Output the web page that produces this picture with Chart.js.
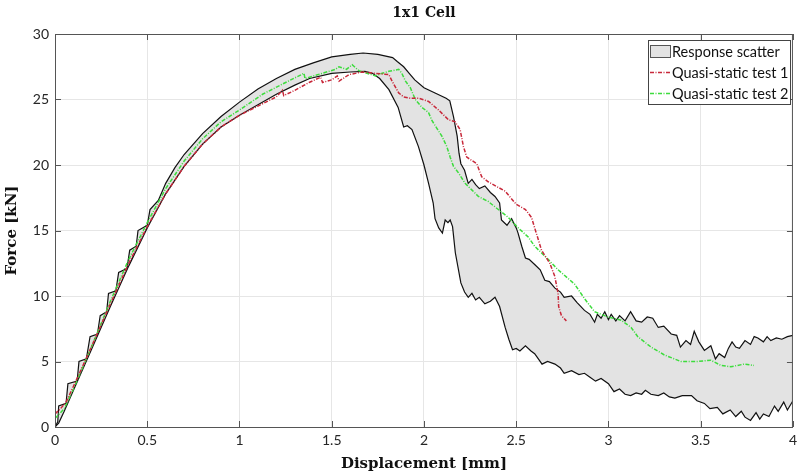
<!DOCTYPE html>
<html lang="en">
<head>
    <meta charset="UTF-8">
    <title>1x1 Cell</title>
    <script src="https://cdn.jsdelivr.net/npm/chart.js"></script>
    <style>
        body { margin: 0; background: #fff; }
        #wrap { width: 802px; height: 476px; }
    </style>
</head>
<body>
    <div id="wrap"><canvas id="cellChart" width="802" height="476"></canvas></div>

    <script>
        // Response scatter envelope (upper / lower), displacement [mm] vs force [kN]
        const upperX = [0, 0.015, 0.02, 0.06, 0.07, 0.12, 0.13, 0.17, 0.19, 0.23, 0.245, 0.28, 0.29, 0.33, 0.345, 0.39, 0.405, 0.44, 0.45, 0.5,
            0.515, 0.56, 0.6, 0.65, 0.7, 0.8, 0.9, 1.0, 1.1, 1.2, 1.3, 1.4, 1.5, 1.6, 1.67, 1.75, 1.83, 1.855, 1.89, 1.92,
            1.95, 2.0, 2.06, 2.12, 2.14, 2.16, 2.18, 2.19, 2.2, 2.22, 2.24, 2.26, 2.28, 2.3, 2.33, 2.36, 2.385, 2.41, 2.42, 2.45,
            2.475, 2.5, 2.51, 2.53, 2.55, 2.57, 2.6, 2.63, 2.655, 2.68, 2.71, 2.74, 2.76, 2.8, 2.83, 2.87, 2.9, 2.925, 2.94, 2.96,
            2.98, 3.0, 3.015, 3.04, 3.06, 3.09, 3.12, 3.15, 3.18, 3.21, 3.24, 3.27, 3.3, 3.34, 3.37, 3.39, 3.42, 3.445, 3.465, 3.49,
            3.52, 3.555, 3.58, 3.6, 3.63, 3.65, 3.67, 3.69, 3.71, 3.74, 3.77, 3.79, 3.81, 3.84, 3.86, 3.88, 3.91, 3.94, 3.97, 4.0];
        const upperY = [0, 0.4, 1.6, 1.8, 3.3, 3.5, 5.0, 5.2, 6.9, 7.1, 8.5, 8.8, 10.2, 10.4, 11.8, 12.1, 13.5, 13.8, 15.0, 15.4,
            16.6, 17.3, 18.6, 19.8, 20.8, 22.4, 23.7, 24.8, 25.8, 26.6, 27.3, 27.8, 28.25, 28.45, 28.55, 28.45, 28.2, 27.9, 27.5, 27.0,
            26.5, 25.9, 25.5, 25.1, 24.9, 23.7, 22.2, 20.9, 20.1, 19.6, 18.6, 18.9, 18.5, 18.2, 18.4, 17.9, 17.6, 17.1, 15.8, 15.4,
            15.9, 15.2, 14.8, 13.8, 12.9, 12.8, 12.4, 12.0, 11.2, 11.1, 10.6, 10.3, 9.9, 10.0, 9.5, 8.9, 8.6, 8.0, 8.6, 8.3,
            8.8, 8.2, 8.6, 8.1, 8.5, 8.1, 8.8, 8.1, 8.0, 8.4, 8.3, 7.6, 7.7, 7.1, 7.0, 6.1, 6.6, 6.3, 7.3, 6.5,
            5.85, 6.2, 5.2, 5.6, 5.3, 6.0, 6.5, 6.1, 6.0, 6.6, 6.3, 6.9, 6.8, 6.5, 6.9, 6.6, 6.8, 6.7, 6.9, 7.0];

        const lowerX = [0, 0.02, 0.05, 0.1, 0.2, 0.3, 0.4, 0.5, 0.6, 0.7, 0.8, 0.9, 1.0, 1.1, 1.2, 1.3, 1.38, 1.5, 1.6, 1.68,
            1.72, 1.76, 1.81, 1.86, 1.89, 1.91, 1.935, 1.97, 2.0, 2.025, 2.05, 2.06, 2.08, 2.1, 2.115, 2.13, 2.142, 2.155, 2.17, 2.2,
            2.22, 2.24, 2.26, 2.28, 2.3, 2.33, 2.36, 2.385, 2.41, 2.44, 2.46, 2.48, 2.5, 2.52, 2.55, 2.58, 2.6, 2.62, 2.64, 2.67,
            2.71, 2.74, 2.76, 2.8, 2.84, 2.87, 2.9, 2.93, 2.96, 3.0, 3.03, 3.06, 3.09, 3.12, 3.15, 3.18, 3.2, 3.23, 3.27, 3.3,
            3.33, 3.36, 3.4, 3.45, 3.48, 3.52, 3.55, 3.59, 3.62, 3.66, 3.69, 3.72, 3.74, 3.77, 3.8, 3.82, 3.84, 3.87, 3.9, 3.92,
            3.95, 3.97, 4.0];
        const lowerY = [0, 0.3, 1.2, 2.8, 6.0, 9.2, 12.3, 15.2, 17.8, 19.9, 21.6, 22.9, 23.8, 24.6, 25.4, 26.1, 26.6, 27.0, 27.1, 27.15,
            27.0, 26.6, 25.75, 24.4, 22.9, 23.0, 22.7, 21.4, 20.0, 18.6, 17.1, 15.9, 15.2, 14.8, 15.8, 15.6, 15.8, 15.3, 13.3, 11.0,
            10.3, 9.9, 10.2, 9.7, 9.9, 9.4, 9.6, 9.9, 9.2, 7.6, 6.7, 5.9, 6.0, 5.8, 6.2, 5.8, 5.6, 5.2, 4.8, 5.0,
            4.8, 4.5, 4.1, 4.3, 4.0, 4.1, 3.8, 3.5, 3.7, 3.3, 2.7, 2.9, 2.5, 2.4, 2.6, 2.5, 2.8, 2.5, 2.4, 2.6,
            2.3, 2.2, 2.4, 2.4, 2.0, 1.8, 1.4, 1.5, 1.0, 1.3, 0.8, 1.2, 0.75, 0.5, 1.1, 0.6, 1.0, 0.8, 1.6, 1.2,
            1.9, 1.3, 2.0];

        // Quasi-static test 1
        const test1X = [0, 0.03, 0.06, 0.1, 0.2, 0.3, 0.4, 0.5, 0.6, 0.7, 0.8, 0.9, 1.0, 1.1, 1.2, 1.233, 1.24, 1.3, 1.377, 1.44,
            1.45, 1.5, 1.53, 1.54, 1.593, 1.665, 1.737, 1.81, 1.827, 1.863, 1.89, 1.926, 1.97, 2.025, 2.079, 2.133, 2.169, 2.196, 2.214, 2.232,
            2.286, 2.313, 2.35, 2.44, 2.5, 2.55, 2.583, 2.6, 2.62, 2.637, 2.682, 2.709, 2.727, 2.73, 2.745, 2.772];
        const test1Y = [1.0, 1.4, 1.9, 3.1, 6.2, 9.4, 12.5, 15.3, 17.8, 19.9, 21.6, 22.9, 23.8, 24.5, 25.2, 25.7, 25.3, 25.7, 26.3, 26.7,
            26.3, 26.5, 26.8, 26.4, 26.9, 27.1, 27.0, 26.9, 26.4, 25.5, 25.2, 25.1, 25.1, 24.85, 24.2, 23.45, 23.3, 22.7, 21.4, 20.6,
            20.1, 19.1, 18.7, 18.0, 17.0, 16.6, 16.0, 15.2, 14.3, 13.5, 12.5, 11.5, 10.2, 9.2, 8.5, 8.1];

        // Quasi-static test 2
        const test2X = [0, 0.05, 0.1, 0.2, 0.3, 0.4, 0.5, 0.6, 0.7, 0.8, 0.9, 1.0, 1.125, 1.25, 1.35, 1.355, 1.449, 1.52, 1.539, 1.58,
            1.611, 1.647, 1.737, 1.773, 1.81, 1.863, 1.88, 1.9, 1.926, 1.953, 1.989, 2.025, 2.043, 2.07, 2.097, 2.124, 2.142, 2.16, 2.187, 2.223,
            2.259, 2.295, 2.35, 2.403, 2.457, 2.511, 2.565, 2.6, 2.673, 2.727, 2.817, 2.87, 2.925, 2.997, 3.069, 3.123, 3.159, 3.231, 3.303, 3.393,
            3.483, 3.555, 3.609, 3.663, 3.735, 3.789];
        const test2Y = [0.65, 1.4, 2.9, 6.2, 9.6, 12.8, 15.6, 18.2, 20.3, 22.0, 23.3, 24.2, 25.4, 26.3, 27.0, 26.6, 27.0, 27.3, 27.5, 27.3,
            27.65, 27.2, 26.8, 27.0, 27.15, 27.3, 27.0, 26.4, 25.9, 25.0, 24.4, 24.0, 23.4, 22.8, 22.2, 21.4, 20.6, 19.9, 19.4, 18.6,
            18.1, 17.6, 17.2, 16.6, 16.0, 15.2, 14.5, 13.8, 12.8, 12.0, 10.9, 9.8, 8.8, 8.4, 8.15, 7.6, 6.9, 6.1, 5.5, 5.0,
            5.0, 5.1, 4.7, 4.6, 4.8, 4.7];

        const xTicks = { min: 0, max: 4, step: 0.5 };
        const yTicks = { min: 0, max: 30, step: 5 };

        const legendItems = [
            { label: 'Response scatter', kind: 'box', color: '#e3e3e3' },
            { label: 'Quasi-static test 1', kind: 'line', color: '#c8283a' },
            { label: 'Quasi-static test 2', kind: 'line', color: '#3ddc3d' }
        ];

        const toPoints = (xs, ys) => xs.map((x, i) => ({ x: x, y: ys[i] }));

        const axisColor = '#555555';
        const tickFont = { family: 'Lato', size: 14 };
        const labelFont = { family: 'DejaVu Serif', size: 15, weight: 'bold' };

        // frame, inner tick marks, title and the legend box (MATLAB style)
        const matlabFrame = {
            id: 'matlabFrame',
            afterDraw(chart) {
                const ctx = chart.ctx;
                const a = chart.chartArea;
                const xs = chart.scales.x, ys = chart.scales.y;
                ctx.save();
                ctx.strokeStyle = axisColor;
                ctx.lineWidth = 1;
                ctx.strokeRect(a.left + 0.5, a.top + 0.5, a.right - a.left - 1, a.bottom - a.top);
                ctx.beginPath();
                xs.ticks.forEach(t => {
                    const px = Math.round(xs.getPixelForValue(t.value)) + 0.5;
                    ctx.moveTo(px, a.bottom); ctx.lineTo(px, a.bottom - 6);
                    ctx.moveTo(px, a.top); ctx.lineTo(px, a.top + 6);
                });
                ys.ticks.forEach(t => {
                    const py = Math.round(ys.getPixelForValue(t.value)) + 0.5;
                    ctx.moveTo(a.left, py); ctx.lineTo(a.left + 6, py);
                    ctx.moveTo(a.right, py); ctx.lineTo(a.right - 6, py);
                });
                ctx.stroke();

                // title
                ctx.fillStyle = '#111';
                ctx.font = 'bold 14px "DejaVu Serif"';
                ctx.textAlign = 'center';
                ctx.textBaseline = 'middle';
                ctx.fillText('1x1 Cell', (a.left + a.right) / 2, 13);

                // legend
                const lx = 648, ly = 40, lw = 142, lh = 64;
                ctx.fillStyle = '#fff';
                ctx.fillRect(lx, ly, lw, lh);
                ctx.strokeStyle = '#444';
                ctx.strokeRect(lx + 0.5, ly + 0.5, lw, lh);
                ctx.font = '14.5px Lato';
                ctx.textAlign = 'left';
                legendItems.forEach((it, i) => {
                    const cy = ly + 11 + i * 21;
                    if (it.kind === 'box') {
                        ctx.fillStyle = it.color;
                        ctx.fillRect(lx + 2, cy - 6, 20, 12);
                        ctx.strokeStyle = '#555';
                        ctx.strokeRect(lx + 2.5, cy - 5.5, 20, 12);
                    } else {
                        ctx.strokeStyle = it.color;
                        ctx.lineWidth = 1.5;
                        ctx.setLineDash([4, 1.5, 1, 1.5]);
                        ctx.beginPath();
                        ctx.moveTo(lx + 2, cy + 0.5); ctx.lineTo(lx + 23, cy + 0.5);
                        ctx.stroke();
                        ctx.setLineDash([]);
                        ctx.lineWidth = 1;
                    }
                    ctx.fillStyle = '#111';
                    ctx.fillText(it.label, lx + 24, cy + 1);
                });
                ctx.restore();
            }
        };

        const ctxCell = document.getElementById('cellChart').getContext('2d');

        const cellChart = new Chart(ctxCell, {
            type: 'line',
            data: {
                datasets: [
                    {
                        label: 'Response scatter (upper)',
                        data: toPoints(upperX, upperY),
                        borderColor: '#111',
                        borderWidth: 1.2,
                        backgroundColor: '#e3e3e3',
                        fill: '+1',
                        order: 1
                    },
                    {
                        label: 'Response scatter (lower)',
                        data: toPoints(lowerX, lowerY),
                        borderColor: '#111',
                        borderWidth: 1.2,
                        fill: false,
                        order: 1
                    },
                    {
                        label: 'Quasi-static test 1',
                        data: toPoints(test1X, test1Y),
                        borderColor: '#c8283a',
                        borderWidth: 1.5,
                        borderDash: [4, 1.5, 1, 1.5],
                        fill: false,
                        order: 0
                    },
                    {
                        label: 'Quasi-static test 2',
                        data: toPoints(test2X, test2Y),
                        borderColor: '#3ddc3d',
                        borderWidth: 1.5,
                        borderDash: [4, 1.5, 1, 1.5],
                        fill: false,
                        order: 0
                    }
                ]
            },
            options: {
                responsive: false,
                animation: false,
                layout: { padding: { top: 34, right: 7, left: 0, bottom: 0 } },
                elements: { point: { radius: 0 }, line: { tension: 0 } },
                plugins: {
                    legend: { display: false },
                    title: { display: false },
                    tooltip: { enabled: false },
                    filler: { drawTime: 'beforeDatasetsDraw' }
                },
                scales: {
                    x: {
                        type: 'linear',
                        min: xTicks.min, max: xTicks.max,
                        ticks: { stepSize: xTicks.step, color: '#262626', font: tickFont, padding: 5, maxRotation: 0,
                                 callback: v => String(Number(v.toFixed(2))) },
                        grid: { color: '#e6e6e6', drawTicks: false },
                        border: { display: false },
                        title: { display: true, text: 'Displacement [mm]', color: '#111', font: labelFont, padding: { top: 2, bottom: 3 } },
                        afterFit: s => { s.height = 49; }
                    },
                    y: {
                        min: yTicks.min, max: yTicks.max,
                        ticks: { stepSize: yTicks.step, color: '#262626', font: tickFont, padding: 6 },
                        grid: { color: '#e6e6e6', drawTicks: false },
                        border: { display: false },
                        title: { display: true, text: 'Force [kN]', color: '#111', font: labelFont, padding: { top: 3, bottom: 2 } },
                        afterFit: s => { s.width = 55; }
                    }
                }
            },
            plugins: [matlabFrame]
        });
    </script>
</body>
</html>
